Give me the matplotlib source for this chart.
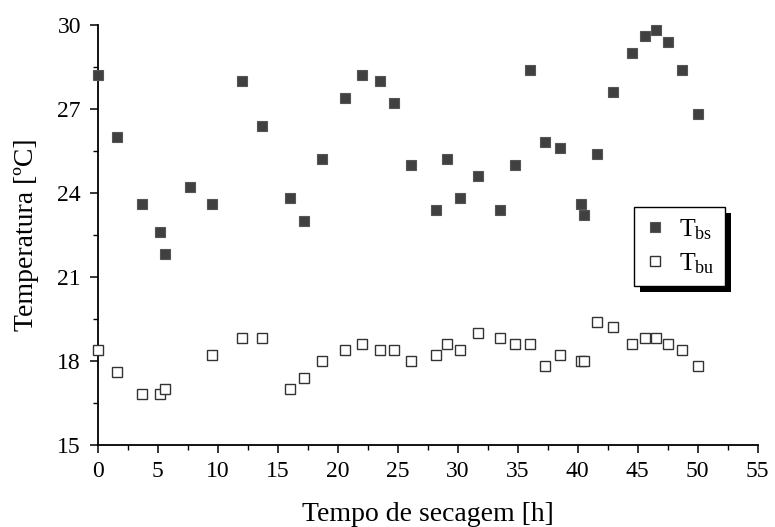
import matplotlib
matplotlib.use("Agg")
import matplotlib.pyplot as plt
from matplotlib.ticker import MultipleLocator
from matplotlib.patches import Rectangle
from matplotlib.transforms import IdentityTransform

plt.rcParams['font.family'] = ['Liberation Serif', 'DejaVu Serif']
plt.rcParams['mathtext.fontset'] = 'custom'
plt.rcParams['mathtext.rm'] = 'Liberation Serif'
plt.rcParams['mathtext.it'] = 'Liberation Serif:italic'

# Tempo de secagem [h] e temperaturas [ºC]
t_bs = [0.0, 1.6, 3.7, 5.2, 5.6, 7.7, 9.5, 12.0, 13.7, 16.0, 17.2, 18.7, 20.6, 22.0,
        23.5, 24.7, 26.1, 28.2, 29.1, 30.2, 31.7, 33.5, 34.8, 36.0, 37.3, 38.5,
        40.3, 40.5, 41.6, 42.9, 44.5, 45.6, 46.5, 47.5, 48.7, 50.0]
T_bs = [28.2, 26.0, 23.6, 22.6, 21.8, 24.2, 23.6, 28.0, 26.4, 23.8, 23.0, 25.2, 27.4, 28.2,
        28.0, 27.2, 25.0, 23.4, 25.2, 23.8, 24.6, 23.4, 25.0, 28.4, 25.8, 25.6,
        23.6, 23.2, 25.4, 27.6, 29.0, 29.6, 29.8, 29.4, 28.4, 26.8]

t_bu = [0.0, 1.6, 3.7, 5.2, 5.6, 9.5, 12.0, 13.7, 16.0, 17.2, 18.7, 20.6, 22.0,
        23.5, 24.7, 26.1, 28.2, 29.1, 30.2, 31.7, 33.5, 34.8, 36.0, 37.3, 38.5,
        40.3, 40.5, 41.6, 42.9, 44.5, 45.6, 46.5, 47.5, 48.7, 50.0]
T_bu = [18.4, 17.6, 16.8, 16.8, 17.0, 18.2, 18.8, 18.8, 17.0, 17.4, 18.0, 18.4, 18.6,
        18.4, 18.4, 18.0, 18.2, 18.6, 18.4, 19.0, 18.8, 18.6, 18.6, 17.8, 18.2,
        18.0, 18.0, 19.4, 19.2, 18.6, 18.8, 18.8, 18.6, 18.4, 17.8]

x_ticks = [0, 5, 10, 15, 20, 25, 30, 35, 40, 45, 50, 55]
y_ticks = [15, 18, 21, 24, 27, 30]

fig = plt.figure(figsize=(7.75, 5.27), dpi=100)
ax = fig.add_axes([0.126, 0.156, 0.8517, 0.797])

ax.plot(t_bs, T_bs, linestyle='none', marker='s', markersize=7.2,
        markerfacecolor='#404040', markeredgecolor='#555555', markeredgewidth=0.8,
        label=r'T$_{\rm bs}$', clip_on=False, zorder=3)
ax.plot(t_bu, T_bu, linestyle='none', marker='s', markersize=6.6,
        markerfacecolor='white', markeredgecolor='#333333', markeredgewidth=1.0,
        label=r'T$_{\rm bu}$', clip_on=False, zorder=3)

ax.set_xlim(0, 55)
ax.set_ylim(15, 30)
ax.set_xticks(x_ticks)
ax.set_yticks(y_ticks)
ax.xaxis.set_minor_locator(MultipleLocator(2.5))
ax.yaxis.set_minor_locator(MultipleLocator(1.5))

for s in ['top', 'right']:
    ax.spines[s].set_visible(False)
for s in ['left', 'bottom']:
    ax.spines[s].set_linewidth(1.3)
    ax.spines[s].set_color('black')

ax.tick_params(axis='both', which='major', direction='out', length=6, width=1.1,
               labelsize=17, colors='black', pad=6)
ax.tick_params(axis='both', which='minor', direction='out', length=3.5, width=1.0)

ax.set_xlabel('Tempo de secagem [h]', fontsize=20, labelpad=14)
ax.set_ylabel('Temperatura [ºC]', fontsize=20, labelpad=13)

leg = ax.legend(loc='upper left', bbox_to_anchor=(0.8126, 0.566), borderaxespad=0,
                frameon=True, fancybox=False, edgecolor='black', framealpha=1,
                fontsize=18.5, handlelength=0.8, handletextpad=0.55, borderpad=0.4,
                labelspacing=0.35, markerscale=1.0)
leg.get_frame().set_linewidth(1.0)
leg.set_zorder(5)

fig.canvas.draw()
bb = leg.get_window_extent()
off = 6
shadow = Rectangle((bb.x0 + off, bb.y0 - off), bb.width, bb.height,
                   transform=IdentityTransform(), facecolor='black', edgecolor='none',
                   zorder=4.5, clip_on=False)
ax.add_artist(shadow)

fig.savefig('out.png', dpi=100)
